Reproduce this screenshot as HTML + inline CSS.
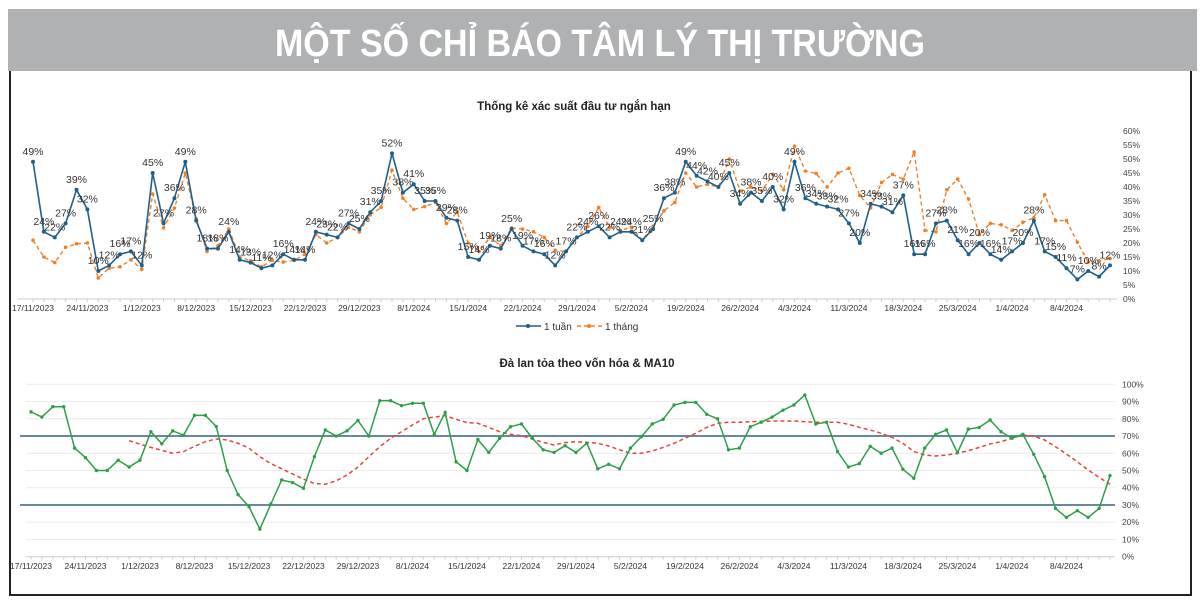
<!DOCTYPE html>
<html><head><meta charset="utf-8">
<style>
html,body{margin:0;padding:0;background:#fff;}
svg{display:block;font-family:"Liberation Sans",sans-serif;}
</style></head>
<body>
<svg id="c" width="1200" height="601" viewBox="0 0 1200 601" xmlns="http://www.w3.org/2000/svg">
  <rect x="8" y="9" width="1189" height="62" fill="#b0b1b3"/>
  <text x="600" y="56" text-anchor="middle" fill="#fff" font-family="'Liberation Sans Narrow','Liberation Sans',sans-serif" font-weight="bold" font-size="38" textLength="650" lengthAdjust="spacingAndGlyphs">MỘT SỐ CHỈ BÁO TÂM LÝ THỊ TRƯỜNG</text>
  <path d="M10 71 V595 H1191 V71" fill="none" stroke="#222" stroke-width="2"/>
  <text x="574" y="110" text-anchor="middle" font-weight="bold" font-size="11.5" fill="#222">Thống kê xác suất đầu tư ngắn hạn</text>
  <text x="587" y="367" text-anchor="middle" font-weight="bold" font-size="11.5" fill="#222">Đà lan tỏa theo vốn hóa &amp; MA10</text>
  <g>
    <line x1="516" y1="326" x2="541" y2="326" stroke="#1f5f8b" stroke-width="1.5"/>
    <circle cx="528" cy="326" r="2" fill="#1f5f8b"/>
    <text x="544" y="330" font-size="10" fill="#333">1 tuần</text>
    <line x1="577" y1="326" x2="602" y2="326" stroke="#f07f2a" stroke-width="1.5" stroke-dasharray="4,3"/>
    <circle cx="589" cy="326" r="2" fill="#f07f2a"/>
    <text x="605" y="330" font-size="10" fill="#333">1 tháng</text>
  </g>
  <g id="topg"></g>
  <g id="botg"></g>
</svg>
<script>
const dateLabels=["17/11/2023","24/11/2023","1/12/2023","8/12/2023","15/12/2023","22/12/2023","29/12/2023","8/1/2024","15/1/2024","22/1/2024","29/1/2024","5/2/2024","19/2/2024","26/2/2024","4/3/2024","11/3/2024","18/3/2024","25/3/2024","1/4/2024","8/4/2024"];
const week=[49,24,22,27,39,32,10,12,16,17,12,45,27,36,49,28,18,18,24,14,13,11,12,16,14,14,24,23,22,27,25,31,35,52,38,41,35,35,29,28,15,14,19,18,25,19,17,16,12,17,22,24,26,22,24,24,21,25,36,38,49,44,42,40,45,34,38,35,40,32,49,36,34,33,32,27,20,34,33,31,37,16,16,27,28,21,16,20,16,14,17,20,28,17,15,11,7,10,8,12];
const month=[21,15,13,18.5,19.7,20,7.5,11,11.5,14,10.6,37.5,25.4,32.5,45,28.6,17,19,25,15,13.6,11.5,13.8,13.2,13.8,16,23,20,22,25.6,24,30,32.7,46,36,32,33,34.5,27,31,20,17,22,19,25.4,25,24,22,17.4,17,22,26,32.7,25.6,24.5,25.6,21,26,31.5,34.5,45,40,41,40,50,38.6,40,38.6,44.5,39,54.6,45.7,44.8,40,45,46.7,37,32.5,41.6,44.5,42.8,52.5,24.5,24,39,42.8,35.7,23,27,26.5,24.5,27.4,29,37.2,28,28,20.3,13.2,13.6,14.4];
const topTicks=["0%","5%","10%","15%","20%","25%","30%","35%","40%","45%","50%","55%","60%"];
const breadth=[84,81,87,87,63,57.5,50,50,56,52,56,72.5,65.5,73,70.5,82,82,75.5,50,36,29,16,30.5,44.5,43,39.7,58,73.5,70,73,79,70,90.5,90.5,87.6,89,89,71,83.7,55,50,68,60.5,68.7,75.4,77,68.7,62,60.5,64.4,60.5,65.8,51,53.6,51,63,69.6,77,79.7,88,89.5,89.5,82.6,80,62,63,75.4,78,81,85,88,93.8,77,78,61,52,54,64,60,63,50.7,45.5,63,71,73.5,60.3,74,75,79.3,72.5,68.7,71,59.4,46.4,28,22.8,26.7,22.8,28,47];
const ma10=[null,null,null,null,null,null,null,null,null,67.3,65.3,63.4,61.7,60,61,64,66.7,68.3,67.7,65.8,63,58,54,51,48,45,42.5,42,44,47.4,52,58,63.8,68.7,72.5,76.4,80,81,81.8,79.7,77.8,77.4,75,72.5,71,70.2,68.3,66.3,64.8,66.2,66.7,66.3,65.8,64.2,62,60,60,61.3,63.4,65.8,68.7,71.6,75,77.4,78,78,78.3,78.5,78.7,78.7,78.7,78.3,78,78,78,76.8,75,73.5,71.6,69.2,65.8,61,59,58.4,59,60,61.5,63.4,65.4,66.7,68.7,70.6,70,67.7,63.8,59.6,55,50.3,46,42];
const botTicks=["0%","10%","20%","30%","40%","50%","60%","70%","80%","90%","100%"];
const refLevels=[70,30];

const NS="http://www.w3.org/2000/svg";
function mk(parent,tag,attrs){const e=document.createElementNS(NS,tag);for(const k in attrs)e.setAttribute(k,attrs[k]);parent.appendChild(e);return e;}
const N=week.length;
function xTop(i){return 33+i*(1110-33)/(N-1);}
function yTop(v){return 299-v*(299-131)/60;}
function xBot(i){return 31+i*(1110-31)/(N-1);}
function yBot(v){return 556.7-v*(556.7-384.3)/100;}

const topG=document.getElementById('topg');
const botG=document.getElementById('botg');

let ax=mk(topG,'line',{x1:17,y1:299,x2:1117,y2:299,stroke:'#ccc','stroke-width':1});


for(let i=0;i<N;i++){
  const t=mk(topG,'line',{x1:xTop(i),y1:299,x2:xTop(i),y2:302,stroke:'#ccc'});
  
  
}
dateLabels.forEach((d,k)=>{
  const t=mk(topG,'text',{x:xTop(k*5),y:311,'text-anchor':'middle','font-size':8.5,fill:'#333'});
  t.textContent=d;
  
  
});
topTicks.forEach((s,k)=>{
  const t=mk(topG,'text',{x:1123,y:yTop(k*5)+3,'font-size':8.5,fill:'#444'});
  t.textContent=s;
  
  
});
let p=mk(topG,'polyline',{points:month.map((v,i)=>xTop(i)+','+yTop(v)).join(' '),fill:'none',stroke:'#f07f2a','stroke-width':1.4,'stroke-dasharray':'4,3'});


month.forEach((v,i)=>{
  const c=mk(topG,'circle',{cx:xTop(i),cy:yTop(v),r:1.8,fill:'#f07f2a'});
  
  
});
p=mk(topG,'polyline',{points:week.map((v,i)=>xTop(i)+','+yTop(v)).join(' '),fill:'none',stroke:'#1f5f8b','stroke-width':1.6});


week.forEach((v,i)=>{
  const c=mk(topG,'circle',{cx:xTop(i),cy:yTop(v),r:2,fill:'#1f5f8b'});
  
  
  const t=mk(topG,'text',{x:xTop(i),y:yTop(v)-7,'text-anchor':'middle','font-size':10.5,fill:'#333'});
  t.textContent=v+'%';
  
  
});

botTicks.forEach((s,k)=>{
  const g=mk(botG,'line',{x1:26,y1:yBot(k*10),x2:1115,y2:yBot(k*10),stroke:k==0?'#ccc':'#ececec','stroke-width':1});
  
  
  const t=mk(botG,'text',{x:1122,y:yBot(k*10)+3,'font-size':8.5,fill:'#444'});
  t.textContent=s;
  
  
});
for(let i=0;i<N;i++){
  const t=mk(botG,'line',{x1:xBot(i),y1:556.7,x2:xBot(i),y2:559.5,stroke:'#ccc'});
  
  
}
dateLabels.forEach((d,k)=>{
  const t=mk(botG,'text',{x:xBot(k*5),y:569,'text-anchor':'middle','font-size':8.5,fill:'#333'});
  t.textContent=d;
  
  
});
refLevels.forEach(v=>{
  const l=mk(botG,'line',{x1:20,y1:yBot(v),x2:1115,y2:yBot(v),stroke:'#4f7a92','stroke-width':1.8});
  
  
});
const maPts=[];ma10.forEach((v,i)=>{if(v!==null)maPts.push(xBot(i)+','+yBot(v));});
p=mk(botG,'polyline',{points:maPts.join(' '),fill:'none',stroke:'#e5453a','stroke-width':1.5,'stroke-dasharray':'4,3'});


p=mk(botG,'polyline',{points:breadth.map((v,i)=>xBot(i)+','+yBot(v)).join(' '),fill:'none',stroke:'#2e9e4a','stroke-width':1.5});


breadth.forEach((v,i)=>{
  const c=mk(botG,'circle',{cx:xBot(i),cy:yBot(v),r:1.7,fill:'#2e9e4a'});
  
  
});
</script>
</body></html>
